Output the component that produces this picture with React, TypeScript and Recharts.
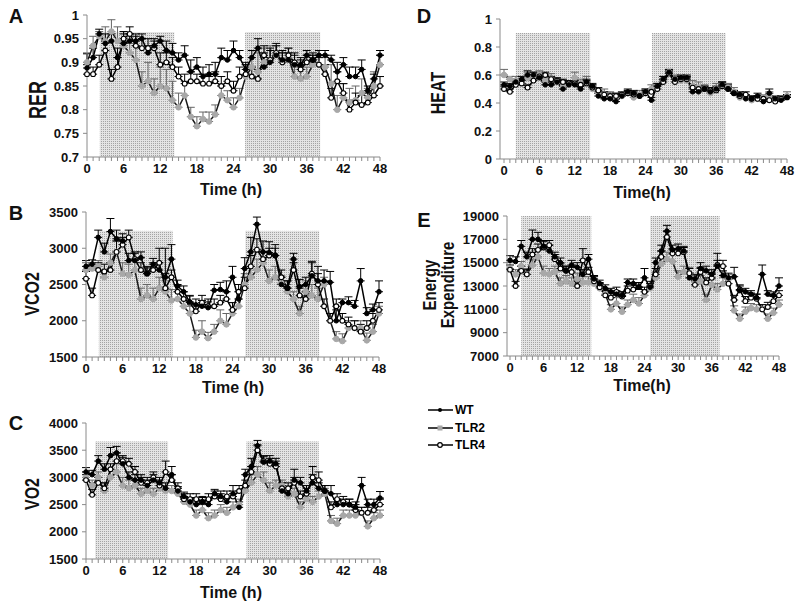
import React from "react";
import { LineChart, Line, XAxis, YAxis, ReferenceArea, ErrorBar } from "recharts";

const HOURS = [
  0, 1, 2, 3, 4, 5, 6, 7, 8, 9, 10, 11, 12, 13, 14, 15, 16, 17, 18, 19, 20, 21, 22, 23, 24,
  25, 26, 27, 28, 29, 30, 31, 32, 33, 34, 35, 36, 37, 38, 39, 40, 41, 42, 43, 44, 45, 46, 47, 48,
];
const X_TICKS = HOURS;

// ---- A: RER ----
const RER_WT = [
  0.888, 0.91, 0.96, 0.94, 0.945, 0.91, 0.94,
  0.945, 0.945, 0.95, 0.92, 0.935, 0.945, 0.925,
  0.92, 0.905, 0.915, 0.88, 0.89, 0.87, 0.875,
  0.875, 0.91, 0.905, 0.925, 0.91, 0.885, 0.91,
  0.93, 0.89, 0.9, 0.915, 0.905, 0.905, 0.895,
  0.895, 0.915, 0.905, 0.915, 0.915, 0.905, 0.88,
  0.895, 0.87, 0.87, 0.885, 0.84, 0.865, 0.915,
];
const RER_WT_ERR = [
  0.03, 0.02, 0.01, 0.02, 0.015, 0.02, 0.02,
  0.015, 0.015, 0.01, 0.015, 0.01, 0.01, 0.02,
  0.02, 0.015, 0.02, 0.025, 0.02, 0.02, 0.02,
  0.025, 0.02, 0.02, 0.02, 0.015, 0.015, 0.015,
  0.02, 0.03, 0.03, 0.02, 0.02, 0.015, 0.02,
  0.015, 0.01, 0.01, 0.01, 0.01, 0.01, 0.02,
  0.015, 0.02, 0.02, 0.02, 0.01, 0.01, 0.01,
];
const RER_TLR2 = [
  0.9, 0.935, 0.955, 0.945, 0.965, 0.945, 0.935,
  0.92, 0.905, 0.85, 0.86, 0.835, 0.85, 0.845,
  0.82, 0.805, 0.83, 0.785, 0.765, 0.78, 0.775,
  0.79, 0.83, 0.82, 0.805, 0.825, 0.87, 0.89,
  0.88, 0.9, 0.905, 0.915, 0.9, 0.91, 0.87,
  0.865, 0.87, 0.895, 0.895, 0.89, 0.855, 0.8,
  0.825, 0.815, 0.82, 0.835, 0.825, 0.85, 0.895,
];
const RER_TLR2_ERR = [
  0.02, 0.02, 0.01, 0.03, 0.025, 0.03, 0.03,
  0.02, 0.03, 0.03, 0.04, 0.03, 0.04, 0.04,
  0.04, 0.03, 0.03, 0.02, 0.02, 0.015, 0.02,
  0.02, 0.02, 0.02, 0.02, 0.02, 0.025, 0.02,
  0.04, 0.03, 0.03, 0.02, 0.02, 0.02, 0.02,
  0.02, 0.02, 0.02, 0.02, 0.02, 0.04, 0.03,
  0.03, 0.03, 0.03, 0.03, 0.02, 0.03, 0.02,
];
const RER_TLR4 = [
  0.875, 0.875, 0.895, 0.925, 0.865, 0.89, 0.95,
  0.96, 0.935, 0.93, 0.93, 0.93, 0.895, 0.9,
  0.89, 0.87, 0.855, 0.86, 0.86, 0.855, 0.855,
  0.86, 0.85, 0.86, 0.84, 0.87, 0.875, 0.87,
  0.865, 0.915, 0.905, 0.92, 0.9, 0.915, 0.9,
  0.885, 0.9, 0.905, 0.895, 0.875, 0.825, 0.86,
  0.835, 0.8, 0.815, 0.81, 0.815, 0.83, 0.85,
];
const RER_TLR4_ERR = [
  0.02, 0.015, 0.02, 0.02, 0.02, 0.02, 0.015,
  0.015, 0.02, 0.02, 0.02, 0.02, 0.025, 0.02,
  0.02, 0.02, 0.02, 0.02, 0.015, 0.02, 0.015,
  0.02, 0.02, 0.02, 0.02, 0.02, 0.02, 0.02,
  0.02, 0.02, 0.02, 0.02, 0.02, 0.015, 0.02,
  0.02, 0.015, 0.015, 0.015, 0.02, 0.02, 0.02,
  0.02, 0.02, 0.02, 0.02, 0.02, 0.02, 0.02,
];

// ---- B: VCO2 ----
const VCO2_WT = [
  2750, 2780, 3150, 2950, 3230, 3130, 3100,
  2830, 2830, 2870, 2650, 2780, 2700, 2600,
  2850, 2480, 2400, 2260, 2220, 2200, 2180,
  2420, 2430, 2400, 2600, 2300, 2720, 2950,
  3330, 2950, 2940, 2900, 2500, 2450, 2850,
  2470, 2500, 2620, 2550, 2550, 2530, 2000,
  2250, 2250, 2200, 2550, 2100, 2150, 2400,
];
const VCO2_WT_ERR = [
  80, 60, 100, 120, 180, 120, 100,
  100, 100, 80, 80, 80, 100, 400,
  200, 80, 80, 80, 80, 80, 80,
  80, 100, 150, 150, 100, 150, 200,
  100, 150, 150, 100, 100, 100, 80,
  100, 100, 200, 200, 150, 150, 150,
  50, 80, 80, 170, 80, 80, 150,
];
const VCO2_TLR2 = [
  2700, 2720, 2750, 2600, 2800, 2950, 2650,
  2630, 2700, 2300, 2350, 2300, 2450, 2400,
  2280, 2300, 2200, 2100, 1770, 1850, 1760,
  1850, 2000, 1950, 2100, 2200, 2500, 2600,
  2700, 2800, 2550, 2600, 2520, 2400, 2300,
  2100, 2400, 2350, 2300, 2500, 2000, 1750,
  1720, 1900, 1900, 1900, 1730, 1850, 2100,
];
const VCO2_TLR2_ERR = [
  100, 80, 80, 80, 120, 150, 150,
  150, 150, 150, 150, 150, 150, 150,
  150, 100, 100, 100, 100, 150, 80,
  100, 150, 150, 150, 100, 150, 150,
  150, 150, 150, 150, 100, 100, 100,
  100, 150, 150, 150, 100, 100, 100,
  100, 100, 100, 100, 100, 100, 100,
];
const VCO2_TLR4 = [
  2580, 2350, 2700, 2680, 2700, 2950, 3050,
  3150, 2850, 2700, 2650, 2700, 2800, 2450,
  2600, 2400, 2300, 2250, 2130, 2250, 2200,
  2200, 2250, 2300, 2150, 2400, 2450, 2750,
  2980, 2850, 2900, 2900, 2600, 2450, 2700,
  2350, 2300, 2650, 2500, 2200, 2000, 2200,
  2000, 1950, 1900, 1850, 1900, 2000, 2150,
];
const VCO2_TLR4_ERR = [
  100, 100, 100, 100, 100, 150, 100,
  100, 100, 100, 100, 100, 200, 200,
  100, 100, 100, 100, 100, 100, 100,
  100, 100, 100, 100, 100, 150, 150,
  150, 100, 100, 150, 100, 100, 100,
  100, 100, 150, 150, 100, 100, 100,
  100, 100, 100, 100, 100, 100, 100,
];

// ---- C: VO2 ----
const VO2_WT = [
  3100, 3050, 3300, 3150, 3400, 3450, 3250,
  3000, 2950, 2950, 2850, 2950, 2900, 2800,
  3050, 2750, 2650, 2550, 2500, 2550, 2500,
  2700, 2650, 2550, 2700, 2450, 3050, 3200,
  3580, 3280, 3300, 3250, 2750, 2700, 2950,
  2900, 2750, 2900, 2800, 2750, 2700, 2500,
  2500, 2500, 2450, 2850, 2500, 2500, 2620,
];
const VO2_WT_ERR = [
  80, 80, 100, 100, 150, 120, 120,
  100, 100, 100, 100, 100, 100, 100,
  150, 80, 80, 80, 80, 80, 80,
  80, 100, 100, 150, 100, 100, 150,
  100, 100, 100, 100, 100, 100, 200,
  100, 100, 150, 100, 100, 150, 100,
  100, 100, 100, 150, 100, 100, 120,
];
const VO2_TLR2 = [
  3000, 2850, 3000, 2750, 3000, 3100, 2850,
  2800, 2850, 2700, 2750, 2700, 2800, 2750,
  2750, 2700, 2550, 2500, 2300, 2400, 2250,
  2300, 2400, 2350, 2450, 2500, 2750, 2900,
  3050, 2950, 2750, 2850, 2850, 2650, 2700,
  2450, 2600, 2550, 2650, 2700, 2200, 2150,
  2300, 2300, 2300, 2350, 2100, 2250, 2300,
];
const VO2_TLR2_ERR = [
  100, 100, 100, 150, 150, 150, 150,
  150, 100, 100, 100, 100, 100, 100,
  100, 100, 100, 100, 100, 100, 100,
  100, 100, 100, 100, 100, 100, 150,
  150, 150, 150, 100, 100, 100, 100,
  100, 100, 100, 100, 100, 100, 100,
  100, 100, 100, 100, 100, 100, 100,
];
const VO2_TLR4 = [
  2950, 2680, 2900, 2800, 3150, 3300, 3300,
  3250, 3100, 2900, 2900, 3000, 2850, 3100,
  2950, 2800, 2600, 2600, 2600, 2550, 2600,
  2650, 2600, 2650, 2650, 2750, 2850, 3100,
  3500, 3300, 3250, 3200, 2800, 2800, 2900,
  2650, 2700, 3000, 2950, 2750, 2450, 2600,
  2550, 2500, 2400, 2350, 2350, 2400, 2500,
];
const VO2_TLR4_ERR = [
  100, 100, 100, 100, 100, 150, 100,
  100, 100, 100, 100, 100, 100, 200,
  100, 100, 100, 100, 100, 100, 100,
  100, 100, 100, 100, 100, 100, 100,
  100, 100, 100, 100, 100, 100, 100,
  100, 100, 200, 150, 100, 100, 100,
  100, 100, 100, 100, 100, 100, 100,
];

// ---- D: HEAT ----
const HEAT_WT = [
  0.53, 0.52, 0.55, 0.57, 0.6, 0.6, 0.58,
  0.53, 0.53, 0.55, 0.5, 0.53, 0.53, 0.5,
  0.55, 0.52, 0.45, 0.43, 0.43, 0.41, 0.45,
  0.48, 0.47, 0.45, 0.48, 0.42, 0.52, 0.57,
  0.62, 0.57, 0.58, 0.58, 0.48, 0.48, 0.5,
  0.48, 0.5, 0.53, 0.5, 0.47, 0.46, 0.43,
  0.43, 0.45, 0.41, 0.47, 0.43, 0.42, 0.44,
];
const HEAT_WT_ERR = [
  0.02, 0.02, 0.02, 0.02, 0.03, 0.02, 0.02,
  0.02, 0.02, 0.02, 0.02, 0.02, 0.02, 0.02,
  0.02, 0.02, 0.02, 0.02, 0.02, 0.02, 0.02,
  0.02, 0.02, 0.02, 0.02, 0.02, 0.02, 0.02,
  0.02, 0.02, 0.02, 0.02, 0.02, 0.02, 0.02,
  0.02, 0.02, 0.02, 0.02, 0.02, 0.02, 0.02,
  0.02, 0.02, 0.02, 0.03, 0.02, 0.02, 0.02,
];
const HEAT_TLR2 = [
  0.6, 0.57, 0.56, 0.54, 0.58, 0.59, 0.6,
  0.56, 0.57, 0.55, 0.52, 0.53, 0.58, 0.54,
  0.54, 0.5, 0.47, 0.46, 0.45, 0.44, 0.45,
  0.47, 0.44, 0.46, 0.47, 0.5, 0.5, 0.56,
  0.62, 0.57, 0.56, 0.56, 0.52, 0.51, 0.5,
  0.47, 0.5, 0.52, 0.51, 0.48, 0.44, 0.44,
  0.42, 0.43, 0.44, 0.45, 0.42, 0.43, 0.45,
];
const HEAT_TLR2_ERR = [
  0.04, 0.02, 0.03, 0.03, 0.04, 0.03, 0.03,
  0.03, 0.04, 0.03, 0.03, 0.03, 0.04, 0.03,
  0.05, 0.03, 0.03, 0.04, 0.03, 0.03, 0.02,
  0.02, 0.02, 0.03, 0.03, 0.03, 0.04, 0.03,
  0.02, 0.03, 0.03, 0.03, 0.04, 0.04, 0.03,
  0.04, 0.04, 0.03, 0.03, 0.03, 0.02, 0.02,
  0.02, 0.02, 0.02, 0.03, 0.02, 0.02, 0.03,
];
const HEAT_TLR4 = [
  0.5, 0.48, 0.53, 0.54, 0.51, 0.56, 0.59,
  0.6, 0.57, 0.56, 0.55, 0.54, 0.54, 0.53,
  0.54, 0.51, 0.49, 0.46, 0.45, 0.45, 0.46,
  0.47, 0.46, 0.45, 0.47, 0.48, 0.5, 0.55,
  0.61, 0.55, 0.57, 0.57, 0.51, 0.5, 0.5,
  0.49, 0.49, 0.52, 0.5, 0.47, 0.45, 0.46,
  0.43, 0.43, 0.43, 0.42, 0.41, 0.43, 0.44,
];
const HEAT_TLR4_ERR = [
  0.02, 0.02, 0.02, 0.02, 0.02, 0.02, 0.02,
  0.02, 0.02, 0.02, 0.02, 0.02, 0.02, 0.02,
  0.02, 0.02, 0.02, 0.02, 0.02, 0.02, 0.02,
  0.02, 0.02, 0.02, 0.02, 0.02, 0.02, 0.02,
  0.02, 0.02, 0.02, 0.02, 0.02, 0.02, 0.02,
  0.02, 0.02, 0.03, 0.03, 0.02, 0.02, 0.02,
  0.02, 0.02, 0.02, 0.02, 0.02, 0.02, 0.02,
];

// ---- E: Energy Expenditure ----
const EE_WT = [
  15200, 15100, 16400, 15500, 17000, 17000, 16400,
  16000, 15500, 15000, 14300, 14800, 14600, 14000,
  15300, 13600, 13200, 12800, 12500, 12300, 12200,
  13300, 13200, 12900, 13700, 12900, 15000, 16000,
  17700, 16100, 16200, 16000, 13700, 13600, 14500,
  14300, 14000, 14700, 13900, 13700, 13800, 12600,
  12500, 12300, 12000, 14000, 12300, 12200, 13000,
];
const EE_WT_ERR = [
  400, 400, 500, 400, 800, 600, 500,
  500, 400, 400, 400, 400, 400, 400,
  400, 300, 300, 300, 300, 300, 300,
  300, 400, 400, 800, 300, 400, 500,
  500, 400, 400, 400, 400, 400, 500,
  400, 400, 500, 400, 400, 800, 400,
  300, 300, 300, 800, 300, 300, 700,
];
const EE_TLR2 = [
  14500, 14000, 14700, 14000, 14800, 15500, 14100,
  14000, 14200, 13200, 13400, 13200, 13600, 13300,
  13300, 13200, 12800, 12300, 11000, 11500, 10800,
  11400, 11800, 11500, 12200, 12800, 13700, 14900,
  15300, 15100, 13800, 14200, 14100, 13400, 13400,
  11800, 13100, 12700, 13200, 13600, 10900, 10200,
  10800, 11100, 11000, 11000, 10200, 10700, 11400,
];
const EE_TLR2_ERR = [
  500, 400, 400, 500, 500, 600, 600,
  500, 500, 500, 500, 500, 500, 500,
  500, 400, 400, 400, 400, 500, 400,
  400, 500, 500, 500, 400, 500, 600,
  600, 600, 500, 500, 500, 500, 500,
  500, 500, 500, 500, 400, 400, 400,
  400, 400, 400, 400, 400, 400, 400,
];
const EE_TLR4 = [
  14400, 13000, 14300, 14000, 15700, 16100, 16300,
  16500, 15300, 14500, 14300, 14200, 13000, 15200,
  14200, 13400, 12900, 12200, 12000, 12500, 12100,
  12600, 12700, 12900, 12500, 13000, 14000, 15500,
  17200, 15800, 15800, 15900, 14100, 13100, 14200,
  13300, 13700, 14800, 14700, 13200, 11800, 12700,
  11700, 12000, 11900, 11000, 11200, 11700, 12200,
];
const EE_TLR4_ERR = [
  400, 400, 400, 400, 500, 500, 500,
  400, 400, 400, 400, 400, 400, 1000,
  400, 400, 400, 400, 400, 400, 400,
  400, 400, 400, 400, 400, 500, 500,
  500, 400, 400, 400, 400, 400, 400,
  400, 400, 1000, 500, 400, 400, 400,
  400, 400, 400, 400, 400, 400, 400,
];

const FONT = "'Liberation Sans', Arial, Helvetica, sans-serif";
const AXIS_COLOR = "#8a8a8a";

function buildRows(wt: number[], tlr2: number[], tlr4: number[], wtE: number[], tlr2E: number[], tlr4E: number[]) {
  return HOURS.map((t, i) => ({
    t,
    wt: wt[i],
    tlr2: tlr2[i],
    tlr4: tlr4[i],
    wtE: [0, wtE[i]],
    tlr2E: [0, tlr2E[i]],
    tlr4E: [0, tlr4E[i]],
  }));
}

const Stipple = (props: any) => {
  const { x, y, width, height } = props;
  return (
    <g>
      <defs>
        <pattern id="stipple" width="2" height="2" patternUnits="userSpaceOnUse">
          <rect width="2" height="2" fill="#e4e4e4" />
          <rect width="1" height="1" fill="#a4a4a4" />
        </pattern>
      </defs>
      <rect x={x} y={y} width={width} height={height} fill="url(#stipple)" />
    </g>
  );
};

interface PanelProps {
  plot: { l: number; t: number; r: number; b: number };
  domain: [number, number];
  yTicks: number[];
  data: any[];
  shades: Array<[number, number]>;
  shadeTop: number;
  padLeft?: number;
}

function Panel({ plot, domain, yTicks, data, shades, shadeTop, padLeft = 0 }: PanelProps) {
  const yw = 60;
  const mt = 6;
  const mr = 12;
  const xh = 40;
  const width = yw + (plot.r - plot.l) + mr;
  const height = mt + (plot.b - plot.t) + xh;
  const tickStyle = { fontSize: 13, fontWeight: "bold" as const, fill: "#111", fontFamily: FONT };

  return (
    <div style={{ position: "absolute", left: plot.l - yw, top: plot.t - mt }}>
      <LineChart width={width} height={height} data={data} margin={{ top: mt, right: mr, left: 0, bottom: 0 }}>
        {shades.map(([x1, x2]) => (
          <ReferenceArea
            key={x1}
            x1={x1}
            x2={x2}
            y1={domain[0]}
            y2={shadeTop}
            shape={<Stipple />}
            fill="#d4d4d4"
            fillOpacity={1}
            stroke="none"
          />
        ))}
        <XAxis
          dataKey="t"
          type="number"
          domain={[0, 48]}
          ticks={X_TICKS}
          interval={0}
          tickFormatter={(v: number) => (v % 6 === 0 ? String(v) : "")}
          height={xh}
          padding={{ left: padLeft, right: 0 }}
          tickSize={4}
          tickMargin={3}
          stroke={AXIS_COLOR}
          tick={tickStyle}
        />
        <YAxis
          width={yw}
          type="number"
          domain={domain}
          ticks={yTicks}
          interval={0}
          allowDataOverflow
          tickFormatter={(v: number) => String(Number(v.toFixed(2)))}
          tickSize={4}
          tickMargin={4}
          stroke={AXIS_COLOR}
          tick={tickStyle}
        />
        {/* error bars first, on invisible lines, so the markers sit on top */}
        <Line dataKey="tlr2" stroke="none" dot={false} activeDot={false} isAnimationActive={false}>
          <ErrorBar dataKey="tlr2E" direction="y" width={4} stroke="#666" strokeWidth={1} isAnimationActive={false} />
        </Line>
        <Line dataKey="tlr4" stroke="none" dot={false} activeDot={false} isAnimationActive={false}>
          <ErrorBar dataKey="tlr4E" direction="y" width={4} stroke="#000" strokeWidth={1} isAnimationActive={false} />
        </Line>
        <Line dataKey="wt" stroke="none" dot={false} activeDot={false} isAnimationActive={false}>
          <ErrorBar dataKey="wtE" direction="y" width={4} stroke="#000" strokeWidth={1} isAnimationActive={false} />
        </Line>
        <Line
          dataKey="tlr2"
          stroke="#1a1a1a"
          strokeWidth={1.5}
          dot={{ r: 2.8, fill: "#a8a8a8", stroke: "#a8a8a8", strokeWidth: 1 }}
          activeDot={false}
          isAnimationActive={false}
        />
        <Line
          dataKey="tlr4"
          stroke="#000"
          strokeWidth={1.5}
          dot={{ r: 2.4, fill: "#fff", stroke: "#000", strokeWidth: 1.1 }}
          activeDot={false}
          isAnimationActive={false}
        />
        <Line
          dataKey="wt"
          stroke="#000"
          strokeWidth={1.5}
          dot={{ r: 2.3, fill: "#000", stroke: "#000", strokeWidth: 1 }}
          activeDot={false}
          isAnimationActive={false}
        />
      </LineChart>
    </div>
  );
}

function Label({ x, y, text, size = 16, rotate = false, stretch = 1 }: { x: number; y: number; text: string; size?: number; rotate?: boolean; stretch?: number }) {
  const transform = rotate
    ? `translate(-50%, -50%) rotate(-90deg) scale(1, ${stretch})`
    : "translate(-50%, -50%)";
  return (
    <div
      style={{
        position: "absolute",
        left: x,
        top: y,
        transform,
        fontFamily: FONT,
        fontWeight: "bold",
        fontSize: size,
        whiteSpace: "nowrap",
        color: "#111",
        lineHeight: 1,
      }}
    >
      {text}
    </div>
  );
}

function LegendRow({ y, label, kind }: { y: number; label: string; kind: "wt" | "tlr2" | "tlr4" }) {
  const dot =
    kind === "wt" ? (
      <circle cx={12} cy={5} r={2} fill="#000" />
    ) : kind === "tlr2" ? (
      <rect x={9.5} y={2.5} width={5} height={5} fill="#a8a8a8" />
    ) : (
      <circle cx={12} cy={5} r={2.3} fill="#fff" stroke="#000" strokeWidth={1.2} />
    );
  return (
    <div style={{ position: "absolute", left: 428, top: y - 5, display: "flex", alignItems: "center" }}>
      <svg width={25} height={10}>
        <line x1={0} y1={5} x2={25} y2={5} stroke="#000" strokeWidth={1.5} />
        {dot}
      </svg>
      <span style={{ fontFamily: FONT, fontWeight: "bold", fontSize: 12, marginLeft: 2, lineHeight: 1 }}>{label}</span>
    </div>
  );
}

const rerRows = buildRows(RER_WT, RER_TLR2, RER_TLR4, RER_WT_ERR, RER_TLR2_ERR, RER_TLR4_ERR);
const vco2Rows = buildRows(VCO2_WT, VCO2_TLR2, VCO2_TLR4, VCO2_WT_ERR, VCO2_TLR2_ERR, VCO2_TLR4_ERR);
const vo2Rows = buildRows(VO2_WT, VO2_TLR2, VO2_TLR4, VO2_WT_ERR, VO2_TLR2_ERR, VO2_TLR4_ERR);
const heatRows = buildRows(HEAT_WT, HEAT_TLR2, HEAT_TLR4, HEAT_WT_ERR, HEAT_TLR2_ERR, HEAT_TLR4_ERR);
const eeRows = buildRows(EE_WT, EE_TLR2, EE_TLR4, EE_WT_ERR, EE_TLR2_ERR, EE_TLR4_ERR);

export default function App() {
  return (
    <div style={{ position: "absolute", left: 0, top: 0, width: 800, height: 614, background: "#fff", overflow: "hidden" }}>
      <Panel
        plot={{ l: 87, t: 15, r: 380, b: 157 }}
        domain={[0.7, 1]}
        yTicks={[0.7, 0.75, 0.8, 0.85, 0.9, 0.95, 1]}
        data={rerRows}
        shades={[[2.1, 14.3], [25.9, 38.2]]}
        shadeTop={0.964}
      />
      <Panel
        plot={{ l: 86, t: 212, r: 379, b: 357 }}
        domain={[1500, 3500]}
        yTicks={[1500, 2000, 2500, 3000, 3500]}
        data={vco2Rows}
        shades={[[2.1, 14.2], [26.1, 38.2]]}
        shadeTop={3240}
      />
      <Panel
        plot={{ l: 86, t: 423, r: 380, b: 559 }}
        domain={[1500, 4000]}
        yTicks={[1500, 2000, 2500, 3000, 3500, 4000]}
        data={vo2Rows}
        shades={[[1.5, 13.4], [26.2, 38]]}
        shadeTop={3660}
      />
      <Panel
        plot={{ l: 500, t: 19, r: 787, b: 159 }}
        domain={[0, 1]}
        yTicks={[0, 0.2, 0.4, 0.6, 0.8, 1]}
        data={heatRows}
        shades={[[2, 14.6], [25.1, 37.6]]}
        shadeTop={0.9}
        padLeft={4}
      />
      <Panel
        plot={{ l: 507, t: 216, r: 779, b: 356 }}
        domain={[7000, 19000]}
        yTicks={[7000, 9000, 11000, 13000, 15000, 17000, 19000]}
        data={eeRows}
        shades={[[2, 14.5], [25, 37.4]]}
        shadeTop={19000}
        padLeft={3}
      />

      <Label x={16} y={16} text="A" size={20} />
      <Label x={16} y={213} text="B" size={20} />
      <Label x={16} y={423} text="C" size={20} />
      <Label x={424} y={16} text="D" size={20} />
      <Label x={424} y={220} text="E" size={20} />

      <Label x={38} y={100} text="RER" size={18} rotate stretch={1.3} />
      <Label x={32} y={294} text="VCO2" size={16} rotate stretch={1.3} />
      <Label x={32} y={494} text="VO2" size={16} rotate stretch={1.3} />
      <Label x={438} y={93} text="HEAT" size={16} rotate stretch={1.3} />
      <Label x={429} y={285} text="Energy" size={15} rotate stretch={1.2} />
      <Label x={447} y={285} text="Expenditure" size={15} rotate stretch={1.2} />

      <Label x={231} y={190} text="Time (h)" size={16} />
      <Label x={233} y={388} text="Time (h)" size={16} />
      <Label x={231} y={593} text="Time (h)" size={16} />
      <Label x={642} y={193} text="Time(h)" size={16} />
      <Label x={642} y={386} text="Time(h)" size={16} />

      <LegendRow y={409} label="WT" kind="wt" />
      <LegendRow y={427} label="TLR2" kind="tlr2" />
      <LegendRow y={444} label="TLR4" kind="tlr4" />
    </div>
  );
}
